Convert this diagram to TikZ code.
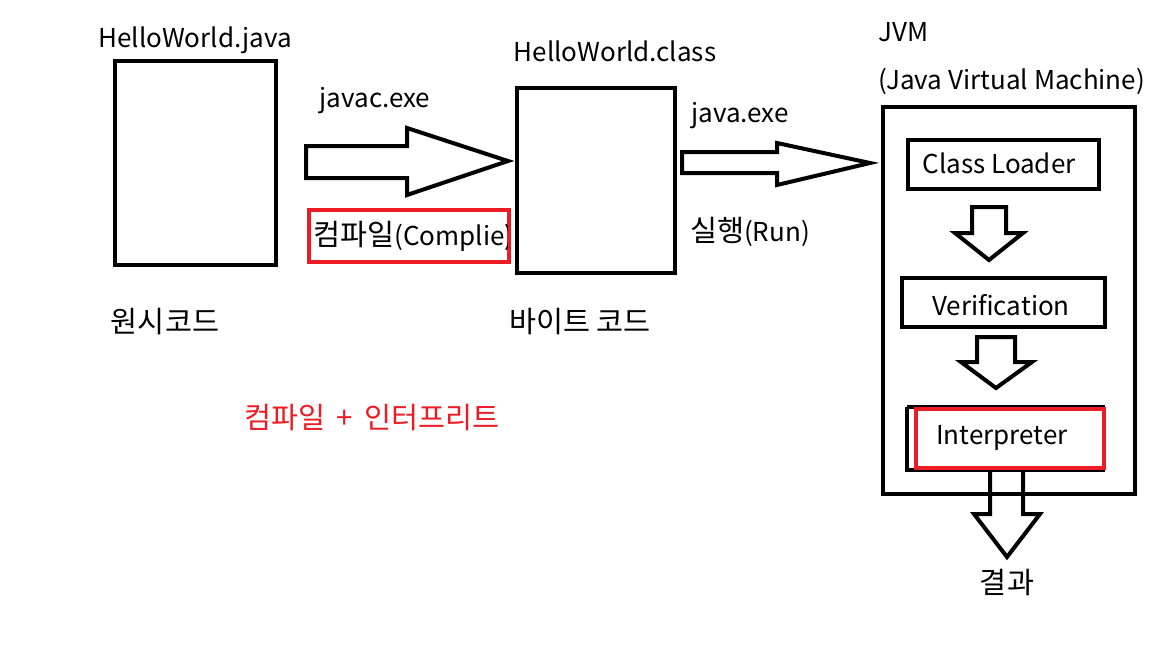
\documentclass[tikz,border=0pt]{standalone}
\usepackage{fontspec}
\setmainfont{Noto Sans CJK KR}
\newfontfamily\kr[Scale=1.13]{Noto Sans CJK KR}
\definecolor{mred}{RGB}{237,28,36}
\begin{document}
\begin{tikzpicture}[x=1pt,y=-1pt,
  box/.style={draw=black,line width=4pt},
  redbox/.style={draw=mred,line width=4pt},
  blk/.style={draw=black,line width=4pt,line join=miter},
  lbl/.style={font=\fontsize{26}{29}\selectfont,inner sep=0pt},
  redlbl/.style={lbl,text=mred}]
\useasboundingbox[fill=white] (0,0) rectangle (1152,648);
% source file
\draw[box] (115,61) rectangle (276,265);
\node[lbl] (srcname) at (195,40) {HelloWorld.java};
\node[lbl] (src) at (165,322) {\kr 원시코드};
% compile arrow
\draw[blk] (306,146) -- (407,146) -- (407,128) -- (508,161) -- (407,195) -- (407,178) -- (306,178) -- cycle;
\node[lbl] (javac) at (375,101) {javac.exe};
\draw[redbox] (309,210) rectangle (509,262);
\begin{scope}
\clip (311,212) rectangle (507,260);
\node[lbl,anchor=west] (comp) at (313,236) {{\kr 컴파일}(Complie)};
\end{scope}
% class file
\draw[box] (517,88) rectangle (675,273);
\node[lbl] (clsname) at (615,51) {HelloWorld.class};
\node[lbl] (byte) at (580,322) {\kr 바이트 코드};
% run arrow
\draw[blk] (682,152) -- (777,152) -- (777,143) -- (870,163) -- (777,185) -- (777,173) -- (682,173) -- cycle;
\node[lbl] (javaexe) at (740,116) {java.exe};
\node[lbl] (run) at (750,232) {{\kr 실행}(Run)};
% JVM
\node[lbl,anchor=west] (jvm) at (878,32) {JVM};
\node[lbl,anchor=west] (jvmfull) at (878,81) {(Java Virtual Machine)};
\draw[box] (883,107) rectangle (1135,494);
\draw[box] (908,140) rectangle (1099,189);
\node[lbl] (cl) at (999,163) {Class Loader};
\draw[blk] (972,207) -- (1006,207) -- (1006,233) -- (1023,233) -- (989,260) -- (955,233) -- (972,233) -- cycle;
\draw[box] (902,278) rectangle (1105,327);
\node[lbl] (ver) at (1001,305) {Verification};
\draw[blk] (977,337) -- (1015,337) -- (1015,362) -- (1032,362) -- (996,388) -- (961,362) -- (977,362) -- cycle;
\draw[box] (907,407) -- (1105,407) (907,407) -- (907,470) -- (1105,470);
\draw[redbox] (916,409) rectangle (1104,468);
\node[lbl] (interp) at (1002,438) {Interpreter};
\draw[blk] (990,470) -- (990,514) -- (974,514) -- (1007,557) -- (1040,514) -- (1023,514) -- (1023,470);
\node[lbl] (res) at (1007,582) {\kr 결과};
% note
\node[redlbl] (note) at (372,418) {\kr 컴파일 \,+\, 인터프리트};
\end{tikzpicture}
\end{document}
